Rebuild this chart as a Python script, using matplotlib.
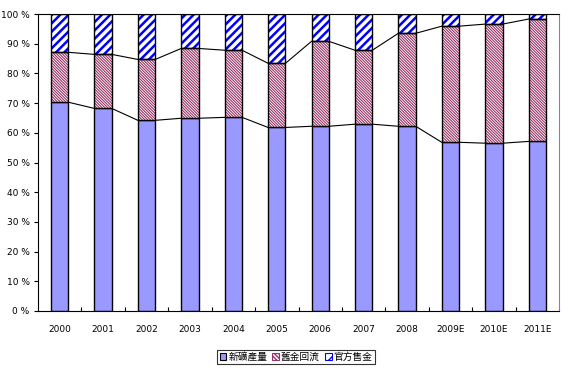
import matplotlib
matplotlib.use("Agg")
import matplotlib.pyplot as plt
import numpy as np
from matplotlib.patches import Patch

plt.rcParams['font.family'] = ['Noto Sans CJK TC', 'DejaVu Sans']

categories = ['2000', '2001', '2002', '2003', '2004', '2005', '2006', '2007',
              '2008', '2009E', '2010E', '2011E']
mine = [70.3, 68.2, 64.2, 64.9, 65.2, 61.8, 62.2, 62.9, 62.2, 56.8, 56.5, 57.1]
scrap = [16.8, 18.2, 20.5, 23.5, 22.6, 21.6, 28.6, 24.9, 31.3, 39.1, 40.1, 41.2]
official = [100 - a - b for a, b in zip(mine, scrap)]
labels = ['新礦產量', '舊金回流', '官方售金']

fig = plt.figure(figsize=(5.64, 3.74), dpi=100)
ax = fig.add_axes([38/564, 63/374, (559-38)/564, (311-14)/374])

x = np.arange(len(categories))
w = 0.4
blue = '#9999FF'
maroon = '#993366'
hblue = '#0000FF'
red_hatch = '\\' * 12
blue_hatch = '////'

ax.bar(x, mine, w, color=blue, edgecolor='black', linewidth=1.0, zorder=2)
b2 = [m + s for m, s in zip(mine, scrap)]
with plt.rc_context({'hatch.linewidth': 0.8}):
    ax.bar(x, scrap, w, bottom=mine, color='white', edgecolor=maroon,
           hatch=red_hatch, linewidth=0, zorder=2)
with plt.rc_context({'hatch.linewidth': 1.8}):
    ax.bar(x, official, w, bottom=b2, color='white', edgecolor=hblue,
           hatch=blue_hatch, linewidth=0, zorder=2)
ax.bar(x, scrap, w, bottom=mine, fill=False, edgecolor='black', linewidth=1.0, zorder=3)
ax.bar(x, official, w, bottom=b2, fill=False, edgecolor='black', linewidth=1.0, zorder=3)

# series lines
for tops in (mine, b2):
    for i in range(len(x) - 1):
        ax.plot([x[i] + w/2, x[i+1] - w/2], [tops[i], tops[i+1]],
                color='black', linewidth=0.8, zorder=1)

ax.set_xlim(-0.5, len(x) - 0.5)
ax.set_ylim(0, 100)
ax.set_yticks(np.arange(0, 101, 10))
ax.set_yticklabels([f'{v} %' for v in range(0, 101, 10)], fontsize=6.5,
                   family='DejaVu Sans')
ax.set_xticks(x)
ax.set_xticklabels(categories, fontsize=6.5, family='DejaVu Sans')
ax.tick_params(axis='x', length=0, pad=10)
ax.set_xticks(np.arange(0.5, len(x) - 0.5, 1), minor=True)
ax.tick_params(axis='x', which='minor', direction='in', length=3, width=0.8)
ax.tick_params(axis='y', direction='out', length=3, width=0.8, pad=3)
for s in ['left', 'bottom', 'top']:
    ax.spines[s].set_color('black')
    ax.spines[s].set_linewidth(0.8)
ax.spines['right'].set_color('#888888')
ax.spines['right'].set_linewidth(0.8)

with plt.rc_context({'hatch.linewidth': 0.8}):
    h2 = Patch(facecolor='white', edgecolor=maroon, hatch='\\' * 8, linewidth=0.8)
with plt.rc_context({'hatch.linewidth': 1.5}):
    h3 = Patch(facecolor='white', edgecolor=hblue, hatch='///', linewidth=0.8)
handles = [Patch(facecolor=blue, edgecolor='black', linewidth=0.8), h2, h3]
leg = fig.legend(handles, labels, loc='center', bbox_to_anchor=(296/564, 1 - 357/374),
                 ncol=3, fontsize=7, frameon=True, fancybox=False,
                 handlelength=0.7, handleheight=0.7, handletextpad=0.2,
                 columnspacing=0.5, borderpad=0.25, edgecolor='black')
leg.get_frame().set_linewidth(0.8)

fig.savefig('out.png', dpi=100)
